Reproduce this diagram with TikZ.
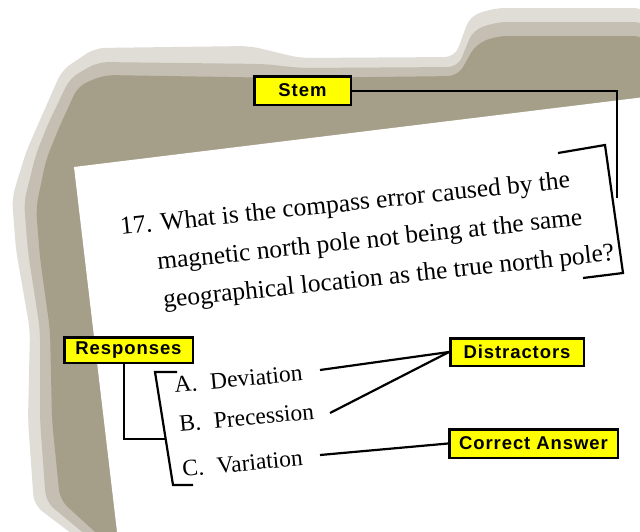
\documentclass[tikz,border=0pt]{standalone}
\usepackage{fontspec}
\setmainfont{Liberation Serif}
\newfontfamily\labfont[LetterSpace=5]{Liberation Sans}
\definecolor{shfringe}{HTML}{E0DDD6}
\definecolor{shmid}{HTML}{C4BFB2}
\definecolor{shcore}{HTML}{A59E88}
\definecolor{labyellow}{HTML}{FFFF00}
\begin{document}
\begin{tikzpicture}[x=1pt,y=-1pt,
  lab/.style={draw=black, line width=2.5pt, fill=labyellow, inner sep=0pt,
    font=\labfont\bfseries\fontsize{18.5}{19}\selectfont},
  conn/.style={line width=2.2pt, draw=black},
  qtext/.style={anchor=base west, inner sep=0pt, rotate=6,
    font=\fontsize{25.5}{28}\selectfont},
  atext/.style={anchor=base west, inner sep=0pt, rotate=5.5,
    font=\fontsize{23.5}{26}\selectfont}]
\useasboundingbox (0,0) rectangle (640,531);
\fill[white] (0,0) rectangle (640,531);
% shadow behind the sheet
\fill[shfringe, rounded corners=10pt] (40,120) -- (62,70) -- (95,48) -- (250,46) -- (300,58)
  -- (455,57) -- (470,16) -- (495,8) -- (645,8) -- (645,300) -- (250,540) -- (80,540)
  -- (34,505) -- (28,420) -- (30,330) -- (16,250) -- (12,198) -- (26,152) -- cycle;
\fill[shmid, rounded corners=10pt] (48,124) -- (70,78) -- (98,62) -- (265,64) -- (300,68)
  -- (458,67) -- (473,30) -- (497,22) -- (645,22) -- (645,300) -- (250,540) -- (92,540)
  -- (46,502) -- (40,420) -- (40,330) -- (28,252) -- (24,202) -- (36,154) -- cycle;
\fill[shcore, rounded corners=10pt] (58,130) -- (78,86) -- (104,75) -- (290,78) -- (458,76)
  -- (476,44) -- (497,36) -- (645,36) -- (645,300) -- (250,540) -- (104,540)
  -- (60,500) -- (52,420) -- (50,330) -- (40,258) -- (36,208) -- (46,160) -- cycle;
% the sheet
\fill[white] (74,167) -- (645,97) -- (645,540) -- (118,540) -- cycle;
% question stem
\node[qtext] (q1) at (121,235) {17. What is the compass error caused by the};
\node[qtext] (q2) at (158,270) {magnetic north pole not being at the same};
\node[qtext] (q3) at (164,308) {geographical location as the true north pole?};
% responses
\node[atext] (ra) at (175,393) {A.\hspace{13pt}Deviation};
\node[atext] (rb) at (180,432) {B.\hspace{13pt}Precession};
\node[atext] (rc) at (183,477) {C.\hspace{13pt}Variation};
% stem bracket
\coordinate (sb1) at (558,153);
\coordinate (sb2) at (605,145);
\coordinate (sb3) at (623,273);
\coordinate (sb4) at (583,278);
\draw[conn] (sb1) -- (sb2) -- (sb3) -- (sb4);
% responses bracket
\coordinate (rb1) at (177,372);
\coordinate (rb2) at (155,372);
\coordinate (rb3) at (173,485);
\coordinate (rb4) at (193,485);
\draw[conn] (rb1) -- (rb2) -- (rb3) -- (rb4);
% labels
\node[lab, minimum width=96.5pt, minimum height=28.5pt] (stem) at (302.5,90.5) {Stem};
\node[lab, minimum width=128.5pt, minimum height=25.5pt] (resp) at (128.5,350) {Responses};
\node[lab, minimum width=133.5pt, minimum height=27.5pt] (dis) at (517,352) {Distractors};
\node[lab, minimum width=168.5pt, minimum height=28.5pt] (cor) at (533.5,443.5) {Correct Answer};
% connectors
\coordinate (stemend) at (616.5,198);
\draw[conn, line width=2pt] (stem.east) -| (stemend);
\coordinate (respcol) at (124,0);
\coordinate (respend) at (165.5,439);
\draw[conn, line width=2pt] (resp.south -| respcol) |- (respend);
\coordinate (da) at (320,370);
\coordinate (db) at (330,413);
\coordinate (dc) at (320,455);
\draw[conn] (da) -- (dis.west);
\draw[conn] (db) -- (dis.west);
\draw[conn] (dc) -- (cor.west);
\end{tikzpicture}
\end{document}
